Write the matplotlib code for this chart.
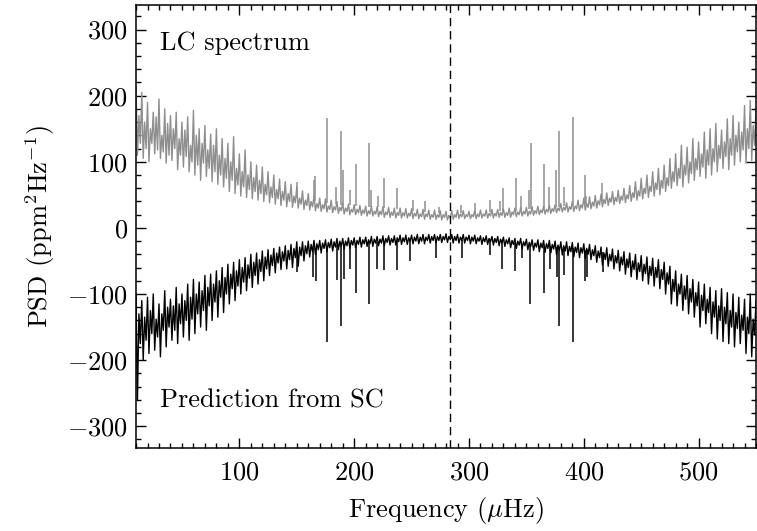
import numpy as np
import matplotlib
matplotlib.use("Agg")
import matplotlib.pyplot as plt
from matplotlib.ticker import MultipleLocator

plt.rcParams['font.family'] = ['cmr10', 'DejaVu Serif']
plt.rcParams['mathtext.fontset'] = 'cm'
plt.rcParams['axes.formatter.use_mathtext'] = True

# frequency grid of the band readings (muHz)
freq = np.arange(10, 551, 5)

# LC spectrum: outer edge of the noise band (hi/lo) and inner excursions (hi2/lo2)
lc_hi = [215, 205, 190, 175, 195, 180, 170, 175, 160, 168, 178, 150, 155, 142, 150, 135,
         128, 138, 112, 118, 100, 95, 92, 85, 80, 74, 70, 66, 62, 56, 52, 48,
         45, 44, 42, 40, 38, 36, 35, 34, 33, 33, 32, 32, 31, 30, 30, 29,
         29, 28, 28, 27, 27, 26, 25, 26, 27, 26, 25, 26, 27, 27, 28, 28,
         29, 30, 30, 31, 31, 32, 33, 33, 34, 35, 37, 38, 40, 42, 45, 47,
         49, 51, 53, 55, 57, 60, 64, 70, 75, 80, 85, 90, 95, 105, 112, 125,
         122, 135, 130, 145, 150, 158, 148, 165, 170, 160, 185, 193, 180]
lc_lo = [110, 105, 100, 112, 105, 98, 102, 88, 92, 85, 80, 72, 78, 70, 66, 62,
         55, 52, 48, 46, 44, 42, 40, 38, 36, 34, 32, 31, 30, 28, 27, 26,
         25, 24, 23, 22, 21, 20, 20, 19, 18, 18, 17, 16, 16, 15, 15, 15,
         14, 14, 13, 13, 13, 12, 12, 13, 14, 14, 14, 14, 15, 15, 15, 16,
         16, 16, 17, 18, 18, 19, 20, 21, 22, 23, 24, 24, 25, 26, 27, 29,
         30, 32, 34, 35, 37, 38, 40, 42, 44, 46, 48, 50, 55, 60, 64, 62,
         68, 72, 78, 75, 80, 85, 90, 88, 95, 100, 98, 102, 105]
lc_hi2 = [170, 160, 150, 168, 140, 158, 150, 135, 148, 125, 140, 128, 118, 125, 110, 105,
          100, 90, 85, 80, 76, 72, 66, 62, 58, 55, 52, 48, 45, 42, 40, 37,
          35, 33, 32, 31, 30, 28, 28, 27, 26, 25, 25, 24, 24, 23, 23, 22,
          22, 21, 21, 20, 20, 20, 19, 20, 21, 20, 20, 21, 21, 22, 22, 23,
          23, 24, 24, 25, 25, 26, 27, 28, 29, 30, 31, 32, 33, 35, 37, 39,
          41, 43, 45, 46, 48, 50, 53, 56, 60, 63, 68, 72, 76, 85, 90, 95,
          100, 105, 112, 118, 120, 125, 130, 135, 140, 145, 150, 155, 150]
lc_lo2 = [128, 120, 128, 118, 115, 110, 120, 110, 108, 100, 95, 98, 90, 85, 80, 75,
          72, 65, 62, 58, 55, 52, 50, 46, 44, 42, 40, 38, 36, 34, 32, 30,
          29, 28, 27, 26, 25, 24, 23, 22, 21, 21, 20, 20, 19, 19, 18, 18,
          18, 17, 17, 16, 16, 16, 15, 16, 17, 17, 17, 17, 18, 18, 18, 19,
          19, 20, 20, 21, 21, 22, 23, 24, 25, 26, 27, 28, 29, 30, 31, 33,
          35, 37, 39, 40, 42, 44, 46, 48, 52, 55, 58, 60, 64, 70, 75, 80,
          82, 88, 92, 95, 100, 105, 108, 110, 115, 118, 120, 125, 122]

# prediction from SC (plotted negative): same layout as above
sc_hi = [-100, -110, -105, -100, -115, -95, -108, -90, -100, -85, -78, -82, -72, -70, -65, -60,
         -55, -52, -48, -45, -40, -38, -35, -33, -31, -29, -27, -25, -21, -21, -20, -19,
         -19, -18, -17, -16, -16, -15, -15, -14, -14, -13, -13, -12, -12, -12, -11, -11,
         -11, -10, -10, -10, -10, -10, -9, -10, -10, -10, -11, -11, -12, -12, -13, -13,
         -14, -15, -16, -16, -17, -18, -18, -19, -19, -20, -21, -21, -22, -23, -24, -25,
         -27, -29, -30, -32, -34, -36, -38, -40, -42, -44, -46, -48, -52, -58, -65, -70,
         -72, -78, -82, -85, -90, -95, -92, -98, -100, -105, -108, -100, -110]
sc_lo = [-260, -200, -190, -185, -195, -180, -170, -175, -165, -170, -160, -150, -155, -140, -135, -128,
         -115, -110, -100, -95, -90, -85, -80, -72, -68, -63, -62, -60, -58, -50, -44, -40,
         -38, -36, -35, -33, -32, -31, -30, -29, -28, -28, -27, -27, -26, -26, -25, -25,
         -24, -24, -24, -23, -23, -22, -22, -23, -23, -23, -24, -24, -25, -25, -26, -27,
         -28, -30, -31, -32, -33, -34, -36, -37, -38, -40, -41, -42, -44, -45, -46, -48,
         -52, -56, -58, -62, -65, -70, -74, -78, -80, -85, -88, -92, -100, -115, -118, -125,
         -130, -135, -150, -145, -160, -168, -172, -175, -180, -175, -190, -195, -185]
sc_hi2 = [-130, -135, -125, -138, -130, -120, -118, -115, -110, -105, -100, -95, -90, -85, -80, -75,
          -70, -65, -60, -56, -52, -48, -44, -41, -38, -36, -34, -31, -29, -27, -25, -24,
          -23, -22, -21, -20, -20, -19, -19, -18, -18, -17, -17, -16, -16, -15, -15, -15,
          -14, -14, -14, -13, -13, -13, -13, -13, -14, -14, -14, -15, -15, -16, -16, -17,
          -18, -19, -20, -21, -22, -23, -23, -24, -25, -26, -27, -28, -29, -30, -31, -33,
          -35, -38, -40, -42, -44, -47, -50, -53, -55, -58, -60, -63, -68, -78, -85, -88,
          -92, -98, -102, -108, -112, -118, -120, -125, -128, -132, -135, -138, -140]
sc_lo2 = [-175, -170, -160, -165, -155, -150, -155, -145, -140, -138, -130, -125, -118, -112, -105, -100,
          -92, -88, -82, -76, -72, -66, -62, -57, -53, -50, -48, -45, -42, -39, -36, -33,
          -31, -30, -29, -28, -27, -26, -25, -24, -24, -23, -23, -22, -22, -21, -21, -20,
          -20, -20, -19, -19, -19, -18, -18, -19, -19, -19, -20, -20, -21, -21, -22, -23,
          -24, -25, -26, -27, -28, -29, -30, -31, -32, -34, -35, -36, -37, -38, -40, -42,
          -45, -48, -50, -53, -56, -60, -63, -66, -69, -72, -75, -78, -85, -96, -100, -108,
          -112, -118, -125, -128, -135, -140, -145, -150, -152, -155, -160, -162, -160]

# mode peaks: frequency, tip, foot
lc_peak_f = [150, 164.6, 166, 176.5, 184, 188.6, 190.4, 196.4, 201.6, 213, 215, 221, 226, 237,
             251, 262, 274, 293, 305, 318, 327, 329.5, 340.8, 345.7, 352, 353.8, 365, 370,
             376, 378, 382.5, 390.6, 400.7, 402, 416]
lc_peak_top = [69, 72, 78, 167, 62, 147, 88, 58, 97, 129, 58, 49, 75, 61,
               42, 40, 32, 35, 37, 42, 40, 60, 75, 49, 58, 128, 96, 62,
               87, 147, 62, 168, 80, 48, 68]
lc_peak_base = [45, 40, 40, 38, 36, 35, 35, 34, 33, 32, 32, 31, 30, 28,
                26, 24, 22, 22, 22, 24, 25, 25, 26, 27, 28, 28, 30, 30,
                32, 32, 33, 34, 36, 36, 40]

sc_peak_f = [150.3, 164, 166.5, 176.7, 185, 188.8, 191, 196.7, 201.6, 213, 220, 226, 237.5,
             249, 271, 293.5, 318, 329, 340.5, 346, 353.5, 365, 370.6, 376.3, 378, 382.7,
             390.5, 400.7, 402.5, 417]
sc_peak_bot = [-66, -74, -81, -173, -79, -149, -78, -62, -98, -115, -62, -64, -64,
               -50, -45, -45, -41, -62, -65, -45, -115, -98, -62, -74, -149, -72,
               -173, -81, -74, -66]
sc_peak_base = [-35, -30, -30, -28, -26, -25, -25, -24, -24, -22, -22, -21, -20,
                -18, -17, -18, -20, -21, -23, -24, -25, -27, -28, -29, -29, -30,
                -31, -33, -33, -37]

nu_max = 283.5


def band_trace(hi, lo, hi2, lo2):
    # four readings per grid step, drawn as one continuous trace
    x = np.column_stack([freq, freq + 1.25, freq + 2.5, freq + 3.75]).ravel()
    y = np.column_stack([hi, lo, hi2, lo2]).ravel()
    return x, y


fig = plt.figure(figsize=(7.57, 5.31), dpi=100)
ax = fig.add_axes([0.1797, 0.1563, 0.819, 0.834])

gray = '#8e8e8e'
x, y = band_trace(lc_hi, lc_lo, lc_hi2, lc_lo2)
ax.plot(x, y, color=gray, lw=1.0)
ax.vlines(lc_peak_f, lc_peak_base, lc_peak_top, color=gray, lw=1.1)
x, y = band_trace(sc_hi, sc_lo, sc_hi2, sc_lo2)
ax.plot(x, y, color='black', lw=1.0)
ax.vlines(sc_peak_f, sc_peak_base, sc_peak_bot, color='black', lw=1.1)

ax.axvline(nu_max, color='black', lw=1.0, dashes=(6, 3.5))

ax.set_xlim(10, 550)
ax.set_ylim(-333, 337)
ax.xaxis.set_major_locator(MultipleLocator(100))
ax.xaxis.set_minor_locator(MultipleLocator(10))
ax.yaxis.set_major_locator(MultipleLocator(100))
ax.yaxis.set_minor_locator(MultipleLocator(20))
ax.tick_params(which='both', direction='in', top=True, right=True, labelsize=19, width=1.0)
ax.tick_params(axis='y', which='major', length=7, pad=6)
ax.tick_params(axis='x', which='major', length=7, pad=9)
ax.tick_params(which='minor', length=3.5)
for s in ax.spines.values():
    s.set_linewidth(1.1)

ax.set_xlabel(r'Frequency ($\mu$Hz)', fontsize=19, labelpad=8)
ax.set_ylabel(r'PSD (ppm$^2$Hz$^{-1}$)', fontsize=19, labelpad=7)

ax.text(0.039, 0.914, 'LC spectrum', transform=ax.transAxes, fontsize=19, va='center')
ax.text(0.039, 0.108, 'Prediction from SC', transform=ax.transAxes, fontsize=19, va='center')

fig.savefig('out.png', dpi=100)
